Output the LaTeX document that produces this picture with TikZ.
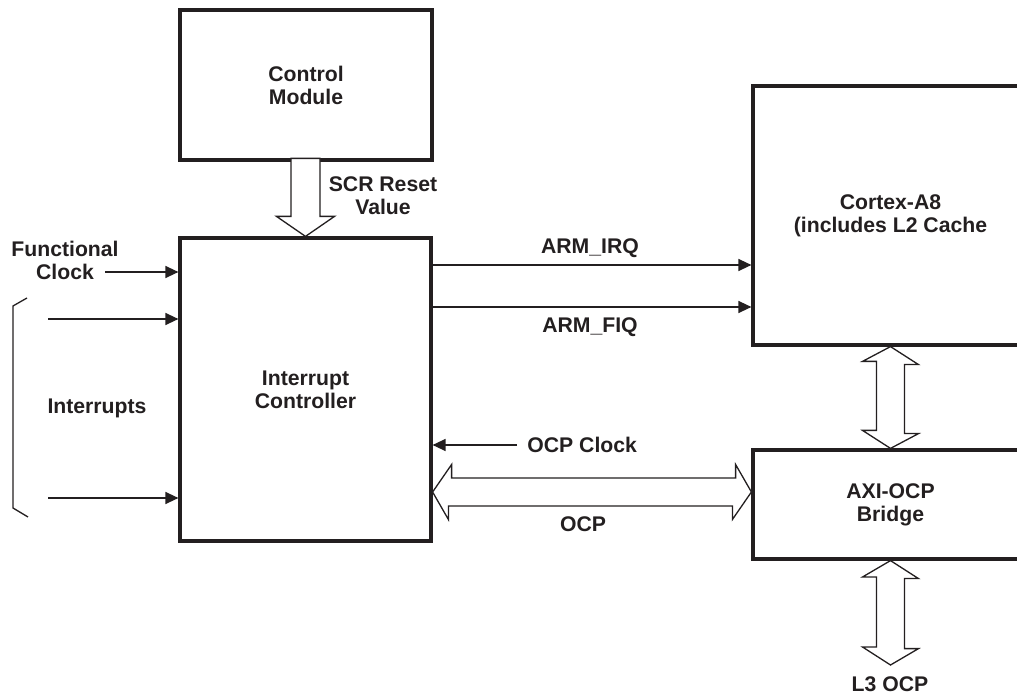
\documentclass[tikz,border=0pt]{standalone}
\usepackage{fontspec}
\setmainfont{Liberation Sans}
\usetikzlibrary{arrows.meta}
\definecolor{ink}{RGB}{35,31,32}
\begin{document}
\begin{tikzpicture}[x=0.5pt,y=-0.5pt,
	every node/.style={font=\fontsize{10.6}{11.5}\selectfont\bfseries, text=ink, align=center},
	block/.style={draw=ink, line width=1.6pt, fill=white, inner sep=0pt},
	sig/.style={draw=ink, line width=0.65pt, -{Triangle[length=6.5pt,width=6pt]}},
	bus/.style={draw=ink, line width=0.65pt, fill=white, line join=miter},
	lbl/.style={inner sep=0pt}]
	\useasboundingbox (0,0) rectangle (1017,694);

	\node[block, minimum width=126pt, minimum height=75pt] (ctrl) at (306,85) {Control\\Module};
	\node[block, minimum width=125.5pt, minimum height=151.5pt] (intc) at (305.5,389.5) {Interrupt\\Controller};
	\node[block, minimum width=137.5pt, minimum height=129.5pt] (cortex) at (890.5,215.5) {Cortex-A8\\(includes L2 Cache};
	\node[block, minimum width=137.5pt, minimum height=54.5pt] (bridge) at (890.5,504.5) {AXI-OCP\\Bridge};

	% wide bus arrows
	\draw[bus] (intc.north) -- ++(29,-20) -- ++(-14.5,0) -- ++(0,-58) -- ++(-29,0) -- ++(0,58) -- ++(-14.5,0) -- cycle;
	\draw[bus] (cortex.south) -- ++(28,18) -- ++(-14,0) -- ++(0,69) -- ++(14,0) -- (bridge.north) -- ++(-28,-18) -- ++(14,0) -- ++(0,-69) -- ++(-14,0) -- cycle;
	\coordinate (l3) at (890.5,665);
	\draw[bus] (bridge.south) -- ++(28,18) -- ++(-14,0) -- ++(0,70) -- ++(14,0) -- (l3) -- ++(-28,-18) -- ++(14,0) -- ++(0,-70) -- ++(-14,0) -- cycle;
	\coordinate (ocpy) at (0,492);
	\draw[bus] (intc.east |- ocpy) -- ++(19,-27.5) -- ++(0,13.5) -- ++(284,0) -- ++(0,-13.5) -- (bridge.west |- ocpy) -- ++(-19,27.5) -- ++(0,-13.5) -- ++(-284,0) -- ++(0,13.5) -- cycle;

	% signals
	\coordinate (fclk) at (105,272);
	\coordinate (irqa) at (48,319);
	\coordinate (irqb) at (48,498);
	\coordinate (irqy) at (0,265);
	\coordinate (fiqy) at (0,307);
	\coordinate (ocpclk) at (517,445);
	\draw[sig] (fclk) -- (fclk -| intc.west);
	\draw[sig] (irqa) -- (irqa -| intc.west);
	\draw[sig] (irqb) -- (irqb -| intc.west);
	\draw[sig] (intc.east |- irqy) -- (cortex.west |- irqy);
	\draw[sig] (intc.east |- fiqy) -- (cortex.west |- fiqy);
	\draw[sig] (ocpclk) -- (ocpclk -| intc.east);
	\draw[ink, line width=0.65pt] (27,298) -- (13,306) -- (13,508) -- (28,517);

	\node[lbl] (fclklbl) at (65,260) {Functional\\Clock};
	\node[lbl] (irqlbl) at (97,408) {Interrupts};
	\node[lbl] (scrlbl) at (383,196) {SCR Reset\\Value};
	\node[lbl] (irqtxt) at (590,248) {ARM\_IRQ};
	\node[lbl] (fiqtxt) at (590,327) {ARM\_FIQ};
	\node[lbl, anchor=west] (ocpclklbl) at (527,445) {OCP Clock};
	\node[lbl] (ocplbl) at (583,524) {OCP};
	\node[lbl] (l3lbl) at (890,684) {L3 OCP};
\end{tikzpicture}
\end{document}
